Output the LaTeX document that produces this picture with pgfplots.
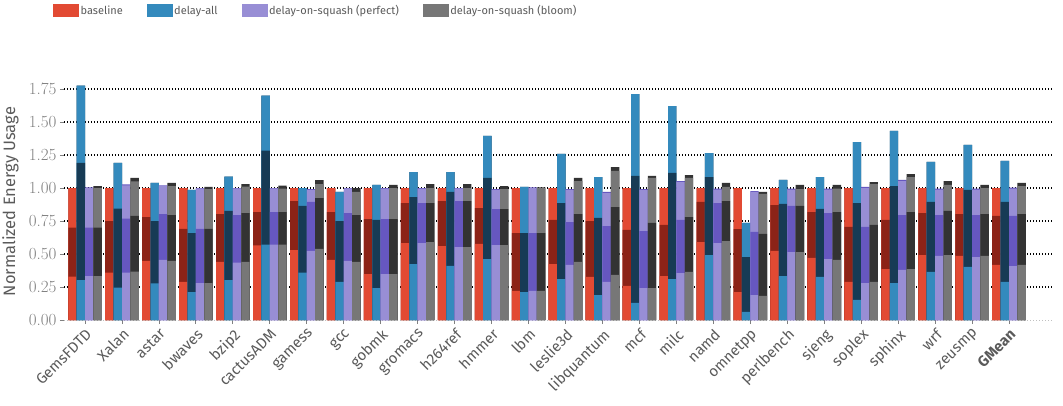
\documentclass[border=0pt]{standalone}
\usepackage{fontspec}
\setmainfont{Fira Sans}
\usepackage{pgfplots}
\usepackage{pgfplotstable}
\pgfplotsset{compat=1.18}
\definecolor{cR}{HTML}{E24A33}
\definecolor{cRd}{HTML}{8C2317}
\definecolor{cB}{HTML}{348ABD}
\definecolor{cBd}{HTML}{173B55}
\definecolor{cP}{HTML}{988ED5}
\definecolor{cPd}{HTML}{6657C0}
\definecolor{cG}{HTML}{777777}
\definecolor{cGd}{HTML}{333333}
\definecolor{txt}{HTML}{5A5A5A}
\definecolor{tck}{HTML}{808080}

% cumulative segment boundaries: c1 bottom (light), c2 (dark), c3 (light), c4 (dark cap)
\pgfplotstableread{
x c1 c2 c3 c4
0 0.328 0.700 1.000 1.000
1 0.359 0.750 1.000 1.000
2 0.447 0.780 1.000 1.000
3 0.288 0.690 1.000 1.000
4 0.440 0.803 1.000 1.000
5 0.566 0.818 1.000 1.000
6 0.530 0.900 1.000 1.000
7 0.455 0.818 1.000 1.000
8 0.348 0.765 1.000 1.000
9 0.583 0.886 1.000 1.000
10 0.560 0.900 1.000 1.000
11 0.576 0.848 1.000 1.000
12 0.220 0.659 1.000 1.000
13 0.424 0.758 1.000 1.000
14 0.326 0.750 1.000 1.000
15 0.258 0.682 1.000 1.000
16 0.333 0.720 1.000 1.000
17 0.590 0.894 1.000 1.000
18 0.212 0.689 1.000 1.000
19 0.523 0.871 1.000 1.000
20 0.470 0.818 1.000 1.000
21 0.288 0.705 1.000 1.000
22 0.386 0.758 1.000 1.000
23 0.492 0.810 1.000 1.000
24 0.485 0.803 1.000 1.000
25 0.417 0.788 1.000 1.000
}\tblbase

\pgfplotstableread{
x c1 c2 c3 c4
0 0.303 1.190 1.775 1.775
1 0.245 0.843 1.190 1.190
2 0.278 0.750 1.038 1.038
3 0.212 0.659 0.985 0.985
4 0.303 0.826 1.086 1.086
5 0.571 1.283 1.700 1.700
6 0.359 0.864 1.000 1.000
7 0.288 0.750 0.970 0.970
8 0.242 0.758 1.023 1.023
9 0.424 0.930 1.120 1.120
10 0.410 0.970 1.120 1.120
11 0.462 1.076 1.394 1.394
12 0.212 0.659 1.008 1.008
13 0.310 0.886 1.258 1.258
14 0.189 0.773 1.083 1.083
15 0.129 1.091 1.712 1.712
16 0.310 1.114 1.620 1.620
17 0.492 1.083 1.265 1.265
18 0.061 0.477 0.735 0.735
19 0.333 0.879 1.061 1.061
20 0.326 0.841 1.083 1.083
21 0.152 0.886 1.348 1.348
22 0.280 1.015 1.432 1.432
23 0.364 0.894 1.197 1.197
24 0.402 0.985 1.326 1.326
25 0.288 0.894 1.205 1.205
}\tblall

\pgfplotstableread{
x c1 c2 c3 c4
0 0.333 0.700 1.000 1.005
1 0.359 0.768 1.020 1.028
2 0.455 0.803 1.015 1.020
3 0.280 0.690 0.997 1.000
4 0.434 0.795 0.997 1.000
5 0.571 0.818 0.997 1.000
6 0.523 0.894 0.985 0.992
7 0.447 0.810 0.997 1.000
8 0.348 0.765 0.995 1.000
9 0.583 0.886 0.995 1.000
10 0.553 0.900 0.997 1.000
11 0.568 0.840 0.985 0.992
12 0.220 0.659 1.000 1.005
13 0.417 0.742 0.985 0.992
14 0.288 0.712 0.962 0.970
15 0.242 0.674 0.985 0.992
16 0.356 0.758 1.045 1.053
17 0.583 0.886 0.987 0.995
18 0.189 0.667 0.970 0.977
19 0.515 0.864 0.987 0.995
20 0.462 0.810 0.987 0.995
21 0.280 0.705 1.000 1.008
22 0.379 0.795 1.053 1.061
23 0.485 0.795 0.987 0.995
24 0.477 0.795 0.987 0.995
25 0.409 0.788 0.995 1.003
}\tblperf

\pgfplotstableread{
x c1 c2 c3 c4
0 0.333 0.700 1.000 1.015
1 0.366 0.788 1.050 1.076
2 0.447 0.795 1.015 1.038
3 0.280 0.690 0.992 1.008
4 0.440 0.810 1.010 1.030
5 0.571 0.818 0.995 1.018
6 0.538 0.924 1.030 1.060
7 0.440 0.795 0.970 1.000
8 0.348 0.765 1.000 1.023
9 0.590 0.886 1.000 1.030
10 0.553 0.900 1.000 1.030
11 0.568 0.840 0.992 1.015
12 0.220 0.659 1.000 1.005
13 0.440 0.803 1.053 1.076
14 0.341 0.856 1.129 1.159
15 0.242 0.735 1.076 1.091
16 0.364 0.780 1.076 1.098
17 0.598 0.900 1.008 1.038
18 0.182 0.652 0.955 0.970
19 0.515 0.864 0.992 1.023
20 0.455 0.818 0.995 1.023
21 0.288 0.720 1.030 1.045
22 0.386 0.818 1.083 1.106
23 0.492 0.826 1.023 1.053
24 0.485 0.803 1.000 1.023
25 0.417 0.803 1.015 1.038
}\tblbloom

\newcommand{\stackseries}[4]{%
  \addplot[ybar, bar width=8.4pt, bar shift=#2, fill=#4, draw=none, forget plot] table[x=x,y=c4]{#1};
  \addplot[ybar, bar width=8.4pt, bar shift=#2, fill=#3, draw=none, forget plot] table[x=x,y=c3]{#1};
  \addplot[ybar, bar width=8.4pt, bar shift=#2, fill=#4, draw=none, forget plot] table[x=x,y=c2]{#1};
  \addplot[ybar, bar width=8.4pt, bar shift=#2, fill=#3, draw=none, forget plot] table[x=x,y=c1]{#1};
}

\begin{document}
\begin{tikzpicture}
\begin{axis}[
  name=ax,
  scale only axis,
  width=989pt, height=246.05pt,
  xmin=-0.57, xmax=26.19,
  ymin=0, ymax=1.864,
  axis line style={draw=none},
  tick pos=left,
  tick align=outside,
  major tick length=4pt,
  tick style={tck, line width=0.9pt},
  xtick={0,...,25},
  xticklabels={GemsFDTD,Xalan,astar,bwaves,bzip2,cactusADM,gamess,gcc,gobmk,gromacs,h264ref,hmmer,lbm,leslie3d,libquantum,mcf,milc,namd,omnetpp,perlbench,sjeng,soplex,sphinx,wrf,zeusmp,{\bfseries GMean}},
  xticklabel style={rotate=45, anchor=north east, font=\fontsize{15}{17}\selectfont, text=txt, inner sep=2.5pt},
  ytick={0.25,0.5,0.75,1,1.25,1.5,1.75},
  extra y ticks={0},
  extra y tick style={major grid style={tck!50, line width=1pt, dash pattern=on 1.2pt off 1.8pt}},
  yticklabel style={font=\fontsize{17}{19}\fontfamily{lmr}\selectfont, text=tck, /pgf/number format/.cd, fixed, fixed zerofill, precision=2, assume math mode=true},
  ymajorgrids,
  grid style={black, line width=1.2pt, dash pattern=on 1.2pt off 1.8pt},
  ylabel={Normalized Energy Usage},
  every axis y label/.style={at={(axis description cs:-0.0495,0.4816)}, rotate=90, anchor=base, font=\fontsize{16.5}{19}\selectfont, text=txt},
  legend columns=4,
  legend cell align=left,
  legend style={at={(axis description cs:-0.0111,1.288)}, anchor=north west, draw=none, fill=none, inner sep=0pt,
    font=\fontsize{11}{13}\selectfont, text=txt,
    /tikz/every even column/.append style={column sep=22pt}},
]
\stackseries{\tblbase}{-12.6pt}{cR}{cRd}
\stackseries{\tblall}{-4.2pt}{cB}{cBd}
\stackseries{\tblperf}{4.2pt}{cP}{cPd}
\stackseries{\tblbloom}{12.6pt}{cG}{cGd}
\addlegendimage{legend image code/.code={\fill[cR] (0pt,-6pt) rectangle (25pt,6pt);}}
\addlegendentry{baseline}
\addlegendimage{legend image code/.code={\fill[cB] (0pt,-6pt) rectangle (25pt,6pt);}}
\addlegendentry{delay-all}
\addlegendimage{legend image code/.code={\fill[cP] (0pt,-6pt) rectangle (25pt,6pt);}}
\addlegendentry{delay-on-squash (perfect)}
\addlegendimage{legend image code/.code={\fill[cG] (0pt,-6pt) rectangle (25pt,6pt);}}
\addlegendentry{delay-on-squash (bloom)}
\end{axis}
\pgfresetboundingbox
\path ([xshift=-64pt,yshift=-85pt]ax.south west) rectangle ([xshift=10pt,yshift=73.95pt]ax.north east);
\end{tikzpicture}
\end{document}
